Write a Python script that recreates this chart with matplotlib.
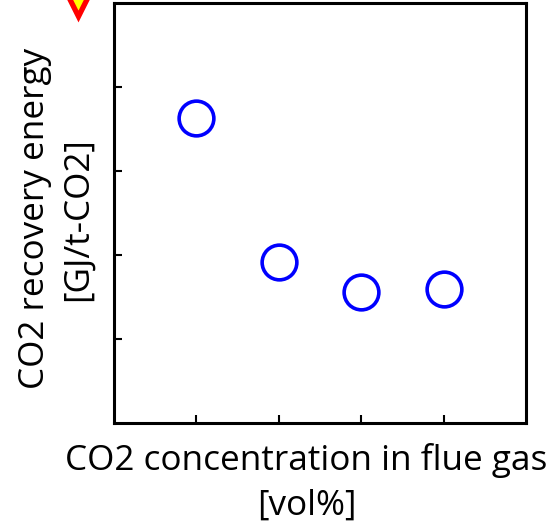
import matplotlib
matplotlib.use("Agg")
import matplotlib.pyplot as plt

plt.rcParams['font.family'] = ['Open Sans', 'DejaVu Sans']

x_vals = [1, 2, 3, 4]
y_vals = [3.63, 1.92, 1.56, 1.60]
x_ticks = [1, 2, 3, 4]
y_ticks = [1, 2, 3, 4]
marker_xy = (-0.435, 5.10)

fig = plt.figure(figsize=(5.52, 5.27), dpi=100)
ax = fig.add_axes([114/552, 1-423/527, 412/552, 420/527])
ax.plot(x_vals, y_vals, linestyle='none', marker='o', markersize=25,
        markerfacecolor='none', markeredgecolor='#0000ff', markeredgewidth=2.6)
ax.plot([marker_xy[0]], [marker_xy[1]], linestyle='none', marker='v', markersize=30,
        markerfacecolor='#ffff00', markeredgecolor='#ff0000', markeredgewidth=3.8,
        clip_on=False)
ax.set_xlim(0, 5)
ax.set_ylim(0, 5)
ax.set_xticks(x_ticks)
ax.set_yticks(y_ticks)
ax.set_xticklabels([])
ax.set_yticklabels([])
ax.tick_params(direction='in', length=6, width=1.5, color='black')
for s in ax.spines.values():
    s.set_linewidth(2.2)
ax.set_xlabel('CO2 concentration in flue gas\n[vol%]', fontsize=25.3, linespacing=1.4)
ax.xaxis.set_label_coords(0.467, -0.0476, transform=ax.transAxes)
ax.xaxis.label.set_verticalalignment('top')
ax.set_ylabel('CO2 recovery energy\n[GJ/t-CO2]', fontsize=25.3, linespacing=1.35)
ax.yaxis.set_label_coords(-0.234, 0.486, transform=ax.transAxes)
ax.yaxis.label.set_verticalalignment('top')
fig.savefig('out.png', dpi=100)
